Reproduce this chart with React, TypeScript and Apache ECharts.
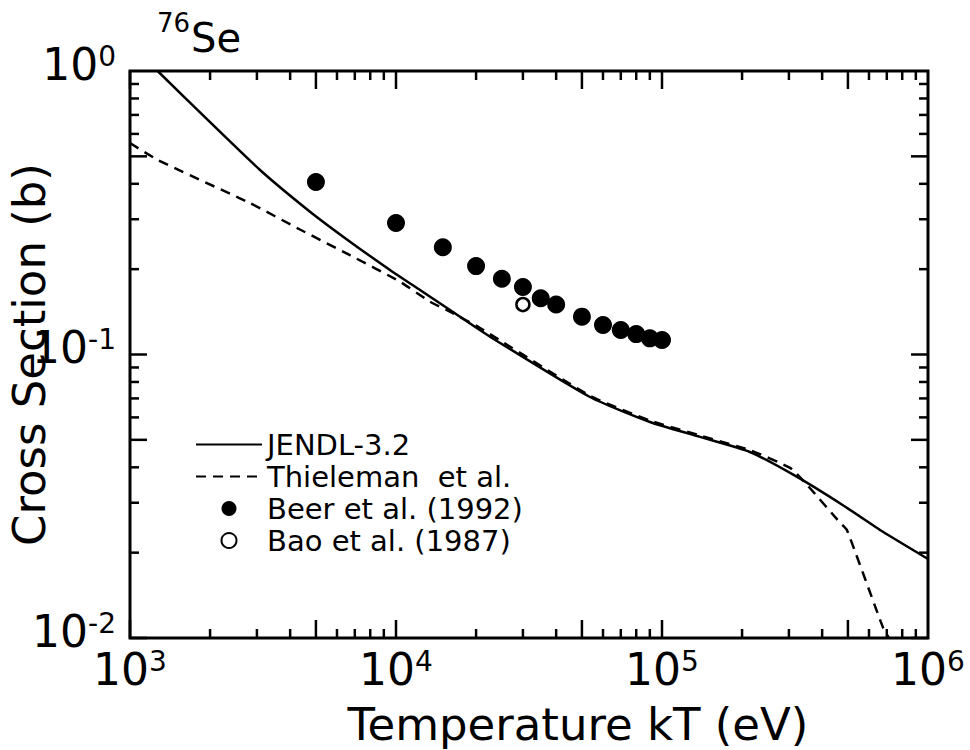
import React, { useEffect, useRef } from "react";
import * as echarts from "echarts";

const FONT = "'DejaVu Sans', 'Liberation Sans', Arial, sans-serif";

// JENDL-3.2 curve: [kT (eV), cross section (b)]
const jendlT = [1270, 1960, 3082, 4750, 6716, 9493, 12310, 15960, 22560, 53600, 90100, 139000, 214000, 322000, 479000, 677000, 1000000];
const jendlSigma = [1.0, 0.672, 0.4476, 0.319, 0.25, 0.1987, 0.1688, 0.1435, 0.1156, 0.0708, 0.0578, 0.0512, 0.0453, 0.037, 0.0294, 0.0237, 0.019];

// Thieleman et al. curve
const thieleT = [1000, 1274, 2825, 4355, 6714, 10350, 13420, 15960, 20700, 53600, 90100, 139000, 214000, 303000, 351000, 467000, 496000, 677000, 713000];
const thieleSigma = [0.557, 0.485, 0.342, 0.276, 0.224, 0.1807, 0.1536, 0.1416, 0.124, 0.0715, 0.0585, 0.0518, 0.046, 0.0398, 0.0347, 0.0255, 0.024, 0.0109, 0.01];

// Beer et al. (1992)
const beerT = [5000, 10000, 15000, 20000, 25000, 30000, 35000, 40000, 50000, 60000, 70000, 80000, 90000, 100000];
const beerSigma = [0.406, 0.291, 0.239, 0.205, 0.185, 0.173, 0.158, 0.15, 0.136, 0.127, 0.122, 0.118, 0.114, 0.1125];

// Bao et al. (1987)
const baoT = [30000];
const baoSigma = [0.15];

// Axis ranges and tick positions
const X_MIN = 1e3;
const X_MAX = 1e6;
const Y_MIN = 1e-2;
const Y_MAX = 1;
const X_DECADES = [1e3, 1e4, 1e5];
const Y_DECADES = [1e-2, 1e-1];
const TICK_MULTIPLIERS = [1, 2, 3, 4, 5, 6, 7, 8, 9];
const LONG_MULTIPLIERS = [1, 5];

const seriesNames = ["JENDL-3.2", "Thieleman  et al.", "Beer et al. (1992)", "Bao et al. (1987)"];

const zip = (a: number[], b: number[]) => a.map((v, i) => [v, b[i]]);

const xTickData: number[][] = [];
X_DECADES.forEach((d) =>
  TICK_MULTIPLIERS.forEach((m) => xTickData.push([d * m, Y_MIN, LONG_MULTIPLIERS.includes(m) ? 1 : 0]))
);
const yTickData: number[][] = [];
Y_DECADES.forEach((d) =>
  TICK_MULTIPLIERS.forEach((m) => yTickData.push([X_MIN, d * m, LONG_MULTIPLIERS.includes(m) ? 1 : 0]))
);

const expLabel = (v: number) => `{b|10}{s|${Math.round(Math.log10(v))}}`;
const labelRich = {
  b: { fontSize: 44, fontFamily: FONT, color: "#000", verticalAlign: "bottom" },
  s: { fontSize: 28, fontFamily: FONT, color: "#000", verticalAlign: "bottom", padding: [0, 0, 16, 0] },
};

export default function App() {
  const ref = useRef<HTMLDivElement>(null);
  useEffect(() => {
    if (!ref.current) return;
    const chart = echarts.init(ref.current, undefined, { renderer: "svg" });
    const tickStyle = { stroke: "#000", lineWidth: 2.5 };
    const hiddenSymbol = { opacity: 0, color: "rgba(0,0,0,0)", borderWidth: 0 };
    chart.setOption({
      animation: false,
      backgroundColor: "#fff",
      grid: {
        left: 130,
        top: 71,
        right: 42,
        bottom: 112,
        show: true,
        borderColor: "#000",
        borderWidth: 3,
        outerBoundsMode: "none",
        containLabel: false,
      },
      xAxis: {
        type: "log",
        logBase: 10,
        min: X_MIN,
        max: X_MAX,
        axisLine: { show: false },
        axisTick: { show: false },
        splitLine: { show: false },
        axisLabel: { formatter: expLabel, rich: labelRich, margin: 9 },
        name: "Temperature kT (eV)",
        nameLocation: "middle",
        nameGap: 64,
        nameMoveOverlap: false,
        nameTextStyle: { fontSize: 45, fontFamily: FONT, color: "#000", padding: [0, 0, 0, 98] },
      },
      yAxis: {
        type: "log",
        logBase: 10,
        min: Y_MIN,
        max: Y_MAX,
        axisLine: { show: false },
        axisTick: { show: false },
        splitLine: { show: false },
        axisLabel: { formatter: expLabel, rich: labelRich, margin: 14, padding: [0, 0, 14, 0] },
        name: "Cross Section (b)",
        nameLocation: "middle",
        nameGap: 78,
        nameMoveOverlap: false,
        nameTextStyle: { fontSize: 45, fontFamily: FONT, color: "#000" },
      },
      legend: {
        orient: "vertical",
        left: 190,
        top: 425,
        itemWidth: 66,
        itemHeight: 15,
        itemGap: 3,
        data: [
          { name: seriesNames[0], itemStyle: hiddenSymbol },
          { name: seriesNames[1], itemStyle: hiddenSymbol },
          { name: seriesNames[2] },
          { name: seriesNames[3] },
        ],
        textStyle: { fontSize: 29, fontFamily: FONT, color: "#000", lineHeight: 29 },
      },
      graphic: [
        {
          type: "text",
          left: 157,
          top: 10,
          style: {
            text: "{s|76}{b|Se}",
            rich: {
              b: { fontSize: 40, fontFamily: FONT, fill: "#000", verticalAlign: "bottom" },
              s: { fontSize: 26, fontFamily: FONT, fill: "#000", verticalAlign: "bottom", padding: [0, 1, 22, 0] },
            },
          },
        },
      ],
      series: [
        {
          name: seriesNames[0],
          type: "line",
          data: zip(jendlT, jendlSigma),
          symbol: "none",
          smooth: 0.2,
          lineStyle: { color: "#000", width: 2.5 },
          itemStyle: { color: "#000" },
          z: 3,
        },
        {
          name: seriesNames[1],
          type: "line",
          data: zip(thieleT, thieleSigma),
          symbol: "none",
          smooth: 0.15,
          lineStyle: { color: "#000", width: 2.5, type: [10, 7] },
          itemStyle: { color: "#000" },
          z: 3,
        },
        {
          name: seriesNames[2],
          type: "scatter",
          data: zip(beerT, beerSigma),
          symbol: "circle",
          symbolSize: 18,
          itemStyle: { color: "#000", opacity: 1 },
          z: 4,
        },
        {
          name: seriesNames[3],
          type: "scatter",
          data: zip(baoT, baoSigma),
          symbol: "circle",
          symbolSize: 13,
          itemStyle: { color: "#fff", borderColor: "#000", borderWidth: 2.5, opacity: 1 },
          z: 5,
        },
        {
          name: "xticks",
          type: "custom",
          data: xTickData,
          silent: true,
          z: 6,
          renderItem: (params: any, api: any) => {
            const cs = params.coordSys;
            const p = api.coord([api.value(0), api.value(1)]);
            const len = api.value(2) === 1 ? 18 : 9;
            const x = p[0];
            const bottom = cs.y + cs.height;
            const top = cs.y;
            return {
              type: "group",
              children: [
                { type: "line", shape: { x1: x, y1: bottom, x2: x, y2: bottom - len }, style: tickStyle },
                { type: "line", shape: { x1: x, y1: top, x2: x, y2: top + len }, style: tickStyle },
              ],
            };
          },
        },
        {
          name: "yticks",
          type: "custom",
          data: yTickData,
          silent: true,
          z: 6,
          renderItem: (params: any, api: any) => {
            const cs = params.coordSys;
            const p = api.coord([api.value(0), api.value(1)]);
            const len = api.value(2) === 1 ? 17 : 9;
            const y = p[1];
            const left = cs.x;
            const right = cs.x + cs.width;
            return {
              type: "group",
              children: [
                { type: "line", shape: { x1: left, y1: y, x2: left + len, y2: y }, style: tickStyle },
                { type: "line", shape: { x1: right, y1: y, x2: right - len, y2: y }, style: tickStyle },
              ],
            };
          },
        },
      ],
    });
    return () => chart.dispose();
  }, []);
  return (
    <div
      ref={ref}
      style={{ position: "fixed", left: 0, top: 0, width: 970, height: 750, background: "#fff" }}
    />
  );
}
